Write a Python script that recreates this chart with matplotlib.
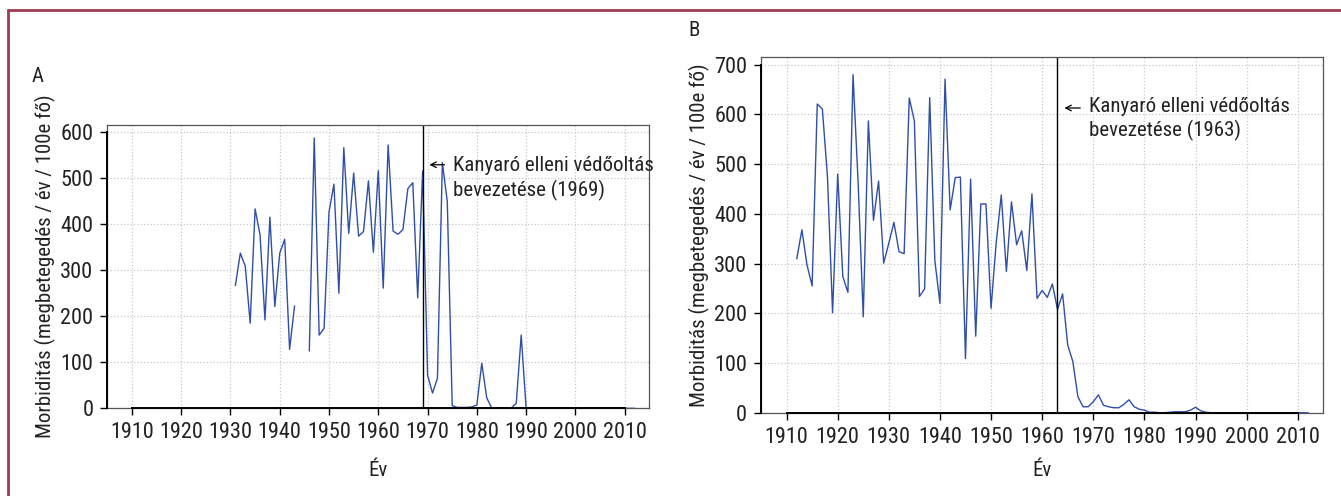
import numpy as np
import matplotlib
matplotlib.use("Agg")
import matplotlib.pyplot as plt
from matplotlib import font_manager
from matplotlib.patches import Rectangle

# keskeny betűtípus, ha van; különben Roboto kisebb mérettel
available = {f.name for f in font_manager.fontManager.ttflist}
narrow = [n for n in ["Liberation Sans Narrow", "DejaVu Sans Condensed",
                      "Roboto Condensed", "Open Sans Condensed"] if n in available]
if narrow:
    FONT, FS, TICK_FS = narrow[0], 15, 16
else:
    FONT, FS, TICK_FS = "Roboto", 12.5, 13
plt.rcParams['font.family'] = [FONT, 'DejaVu Sans']

# --- Panel A (1931-2012), 1944-1945 hiányzik ---
years_a = list(range(1931, 2013))
morb_a = [267, 337, 309, 185, 433, 377, 192, 415, 221, 337, 367, 128, 222,
          np.nan, np.nan,
          125, 587, 159, 174, 427, 487, 250, 566, 380, 511, 374, 384, 494,
          339, 516, 261, 572, 385, 378, 388, 477, 490, 240, 516,
          72, 33, 65, 534, 449, 6, 2, 2, 2, 3, 7, 98, 23, 1, 0, 0, 0, 1,
          11, 159, 0] + [0] * 22

# --- Panel B (1912-2012) ---
years_b = list(range(1912, 2013))
morb_b = [310, 368, 297, 255, 621, 611, 475, 201, 480, 274, 242, 680, 462,
          193, 587, 387, 466, 301, 341, 383, 324, 320, 633, 587, 234, 249,
          634, 307, 220, 671, 408, 473, 474, 109, 470, 154, 420, 420, 210,
          341, 438, 284, 424, 338, 366, 286, 440, 230, 246, 232, 259, 208,
          239, 136, 103, 32, 12, 12, 22, 36, 15, 12, 10, 10, 17, 26, 12, 7,
          5, 1, 1, 0, 0, 1, 2, 2, 2, 5, 11, 4, 1] + [0] * 20

xticks = list(range(1910, 2020, 10))
yticks_a = list(range(0, 700, 100))
yticks_b = list(range(0, 800, 100))

vacc_a = 1969
vacc_b = 1963
label_a = "Kanyaró elleni védőoltás\nbevezetése (1969)"
label_b = "Kanyaró elleni védőoltás\nbevezetése (1963)"
ylabel = "Morbiditás (megbetegedés / év / 100e fő)"
xlabel = "Év"

LINE = "#2f4fa6"
TXT = "#222222"


def draw_panel(ax, years, vals, yticks, ymax, vacc, label, arrow_y, text_y, xpad):
    ax.plot(years, vals, color=LINE, lw=1.0)
    ax.axvline(vacc, color="black", lw=1.0)
    ax.set_xlim(1905, 2015)
    ax.set_ylim(0, ymax)
    ax.set_xticks(xticks)
    ax.set_yticks(yticks)
    ax.grid(color="#c8c8c8", linestyle=":", lw=0.9)
    ax.set_axisbelow(True)
    for s in ax.spines.values():
        s.set_color("#555555")
        s.set_linewidth(0.9)
    # R-stílusú tengelyvonal: első és utolsó tick között
    ax.plot([xticks[0], xticks[-1]], [0, 0], color="black", lw=1.4, clip_on=False, zorder=5)
    ax.plot([1905, 1905], [0, yticks[-1]], color="black", lw=1.4, clip_on=False, zorder=5)
    ax.tick_params(direction="out", length=5, width=1, color="black",
                   labelsize=TICK_FS, labelcolor=TXT, pad=5)
    ax.set_xlabel(xlabel, fontsize=FS, color=TXT, labelpad=xpad)
    ax.set_ylabel(ylabel, fontsize=FS, color=TXT, labelpad=3)
    ax.annotate("", xy=(vacc + 0.8, arrow_y), xytext=(vacc + 5, arrow_y),
                arrowprops=dict(arrowstyle="->", lw=0.9, color="black"))
    ax.text(vacc + 6.2, text_y, label, fontsize=FS, color=TXT,
            va="center", ha="left", linespacing=1.25)


fig = plt.figure(figsize=(13.41, 4.96), dpi=100)

ax_a = fig.add_axes([0.0800, 0.1768, 0.4042, 0.5718])
draw_panel(ax_a, years_a, morb_a, yticks_a, 616, vacc_a, label_a, 529, 499, 13)

ax_b = fig.add_axes([0.5675, 0.1679, 0.4193, 0.7166])
draw_panel(ax_b, years_b, morb_b, yticks_b, 715, vacc_b, label_b, 613, 591, 10)

fig.text(32 / 1341, 1 - 76 / 496, "A", fontsize=FS, color=TXT, va="center", ha="left")
fig.text(688 / 1341, 1 - 31 / 496, "B", fontsize=FS, color=TXT, va="center", ha="left")

# keret (bal + felső él látszik)
fig.patches.append(Rectangle((8 / 1341, -0.1), 1.2, 1.1 - 10 / 496,
                             transform=fig.transFigure, fill=False,
                             edgecolor="#9e3b50", lw=2))

fig.savefig("out.png", dpi=100)
